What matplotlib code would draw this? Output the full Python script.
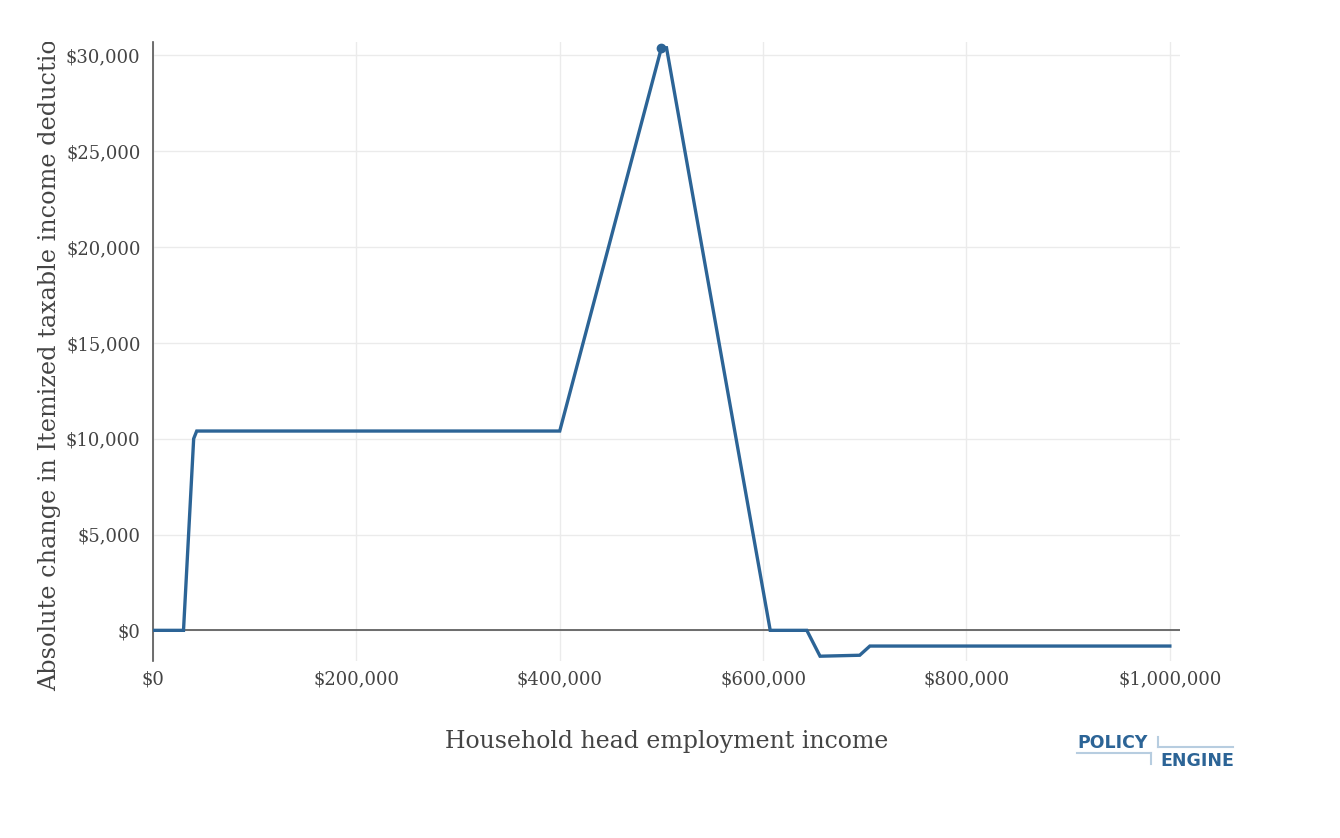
import matplotlib.pyplot as plt
from matplotlib.lines import Line2D
from matplotlib.transforms import Bbox
from matplotlib.ticker import FuncFormatter

# household head employment income ($) and change in itemized deduction ($)
income = [0, 30000, 40000, 43000, 400000, 500000, 505000, 607000,
          643000, 656000, 695000, 705000, 1000000]
change = [0, 0, 10000, 10400, 10400, 30400, 30400, 0,
          0, -1350, -1300, -820, -820]
peak_income = [500000]
peak_change = [30400]

x_ticks = [0, 200000, 400000, 600000, 800000, 1000000]
y_ticks = [0, 5000, 10000, 15000, 20000, 25000, 30000]

blue = '#2c6496'
grey_text = '#444444'

plt.rcParams['font.family'] = ['DejaVu Serif']

fig = plt.figure(figsize=(13.4, 8.38), dpi=100)
W, H = 1340, 838
ax = fig.add_axes([153 / W, 1 - 661 / H, (1180 - 153) / W, (661 - 42) / H])

ax.plot(income, change, color=blue, lw=2.4, zorder=3, solid_joinstyle='miter')
ax.plot(peak_income, peak_change, 'o', color=blue, ms=6, zorder=4)

ax.set_xlim(0, 1010000)
ax.set_ylim(-1600, 30700)
ax.set_xticks(x_ticks)
ax.set_yticks(y_ticks)
ax.xaxis.set_major_formatter(FuncFormatter(lambda v, p: f'${v:,.0f}'))
ax.yaxis.set_major_formatter(FuncFormatter(lambda v, p: f'${v:,.0f}'))
ax.tick_params(axis='both', length=0, labelsize=13, labelcolor=grey_text)
ax.tick_params(axis='x', pad=7)
ax.tick_params(axis='y', pad=9)
ax.grid(True, color='#ebebeb', lw=1)
ax.set_axisbelow(True)
for s in ['top', 'right', 'bottom']:
    ax.spines[s].set_visible(False)
ax.spines['left'].set_color('#555555')
ax.spines['left'].set_linewidth(1.2)
ax.axhline(0, color='#555555', lw=1.2, zorder=2)

ax.set_xlabel('Household head employment income', fontsize=17,
              color=grey_text, labelpad=30)

ylab = fig.text(50 / W, 1 - 357 / H,
                'Absolute change in Itemized taxable income deduction',
                rotation=90, ha='center', va='center', fontsize=17.2,
                color=grey_text)
ylab.set_clip_on(True)
ylab.set_clip_box(Bbox.from_extents(0, 0, W, H - 42))

# PolicyEngine logo
light = '#b7cde0'
fig.text(1077 / W, 1 - 743 / H, 'POLICY', fontsize=12.5, fontweight='bold',
         color=blue, va='center', ha='left', family='DejaVu Sans')
fig.text(1160 / W, 1 - 761 / H, 'ENGINE', fontsize=12.5, fontweight='bold',
         color=blue, va='center', ha='left', family='DejaVu Sans')
for xs, ys in [([1077, 1151], [753, 753]), ([1151, 1151], [753, 764]),
               ([1158, 1158], [737, 747]), ([1158, 1233], [747, 747])]:
    fig.add_artist(Line2D([x / W for x in xs], [1 - y / H for y in ys],
                          color=light, lw=1.5))

fig.savefig('out.png', dpi=100)
